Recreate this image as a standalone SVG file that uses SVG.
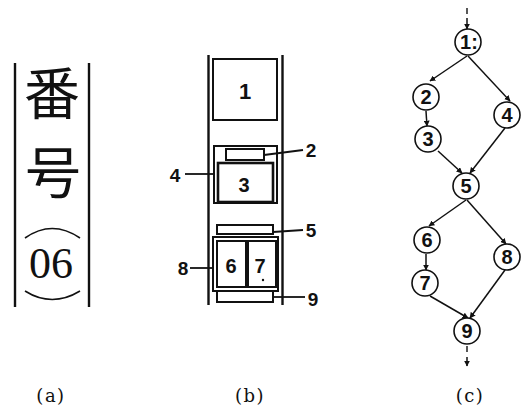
<svg xmlns="http://www.w3.org/2000/svg" width="521" height="407" viewBox="0 0 521 407">
  <style>
    .rule { stroke: #111; stroke-width: 2.4; fill: none; }
    .box { stroke: #111; stroke-width: 2; fill: none; }
    .box3 { stroke: #111; stroke-width: 2.6; fill: none; }
    .lead { stroke: #111; stroke-width: 1.8; fill: none; }
    .edge { stroke: #111; stroke-width: 1.5; fill: none; marker-end: url(#ah); }
    .node { stroke: #111; stroke-width: 1.6; fill: #fff; }
    .num { font-family: "Liberation Sans", Arial, sans-serif; font-weight: bold; fill: #111; text-anchor: middle; }
    .cap { font-family: "DejaVu Serif", "Liberation Serif", serif; font-size: 18px; letter-spacing: 1.5px; fill: #111; text-anchor: middle; }
    .cjk { font-family: "Noto Sans CJK JP", "Noto Sans CJK SC", sans-serif; font-size: 56px; fill: #111; text-anchor: middle; }
  </style>
  <defs>
    <marker id="ah" viewBox="0 0 10 10" refX="9" refY="5" markerWidth="6" markerHeight="6" orient="auto" markerUnits="userSpaceOnUse">
      <path d="M0,0 L10,5 L0,10 Z" fill="#111"/>
    </marker>
  </defs>
  <rect width="521" height="407" fill="#fff"/>

  <!-- (a) vertical label between rules -->
  <g id="panel-a">
    <line class="rule" x1="15" y1="63" x2="15" y2="307"/>
    <line class="rule" x1="89" y1="63" x2="89" y2="307"/>
    <text class="cjk" x="52" y="114">番</text>
    <text class="cjk" x="53" y="193">号</text>
    <path d="M25,238 Q52,219 80,238" stroke="#111" stroke-width="1.6" fill="none"/>
    <text x="51" y="278" font-family="Liberation Serif, Times New Roman, serif" font-size="44" fill="#111" text-anchor="middle">06</text>
    <path d="M25,291 Q52,308 80,291" stroke="#111" stroke-width="1.6" fill="none"/>
  </g>

  <!-- (b) block layout -->
  <g id="panel-b">
    <line class="rule" x1="208.5" y1="55" x2="208.5" y2="305"/>
    <line class="rule" x1="282.5" y1="55" x2="282.5" y2="305"/>
  </g>
  <g id="b1">
    <rect class="box" x="213" y="59" width="64" height="61"/>
    <text class="num" x="245" y="99" font-size="22">1</text>
  </g>
  <g id="b4">
    <rect class="box" x="214" y="146" width="63" height="57"/>
    <line class="lead" x1="185" y1="174" x2="214" y2="174"/>
    <text class="num" x="175" y="182" font-size="19">4</text>
  </g>
  <g id="b2">
    <rect class="box" x="226" y="149" width="38" height="11"/>
    <line class="lead" x1="264" y1="155" x2="303" y2="150"/>
    <text class="num" x="311" y="157" font-size="19">2</text>
  </g>
  <g id="b3">
    <rect class="box3" x="218" y="163" width="55" height="39"/>
    <text class="num" x="244" y="192" font-size="20">3</text>
  </g>
  <g id="b5">
    <rect class="box" x="217" y="225" width="56" height="9"/>
    <line class="lead" x1="273" y1="232" x2="303" y2="230"/>
    <text class="num" x="311" y="237" font-size="19">5</text>
  </g>
  <g id="b8">
    <rect class="box" x="213" y="237" width="65" height="54"/>
    <line class="lead" x1="190" y1="268" x2="213" y2="268"/>
    <text class="num" x="183" y="275" font-size="19">8</text>
  </g>
  <g id="b6">
    <rect class="box" x="217" y="241" width="29" height="46"/>
    <text class="num" x="231" y="273" font-size="20">6</text>
  </g>
  <g id="b7">
    <rect class="box" x="248" y="241" width="28" height="46"/>
    <text class="num" x="260" y="273" font-size="20">7</text>
    <circle cx="263" cy="280" r="1.2" fill="#111"/>
  </g>
  <g id="b9">
    <rect class="box" x="217" y="291" width="56" height="11"/>
    <line class="lead" x1="273" y1="297" x2="305" y2="297"/>
    <text class="num" x="313" y="306" font-size="19">9</text>
  </g>

  <!-- (c) flow graph connectors -->
  <g id="edges">
    <line x1="467" y1="8" x2="467" y2="14" stroke="#111" stroke-width="1.4"/>
    <line class="edge" x1="467" y1="18" x2="467" y2="29"/>
    <line class="edge" x1="467" y1="56" x2="430" y2="81"/>
    <line class="edge" x1="468" y1="56" x2="510" y2="101"/>
    <line class="edge" x1="426" y1="111" x2="427" y2="126"/>
    <line class="edge" x1="438" y1="151" x2="462" y2="173"/>
    <line class="edge" x1="505" y1="128" x2="470" y2="173"/>
    <line class="edge" x1="466" y1="200" x2="429" y2="226"/>
    <line class="edge" x1="467" y1="200" x2="506" y2="244"/>
    <line class="edge" x1="426" y1="254" x2="426" y2="270"/>
    <line class="edge" x1="430" y1="296" x2="468" y2="318"/>
    <line class="edge" x1="505" y1="270" x2="470" y2="318"/>
    <line x1="467" y1="346" x2="467" y2="352" stroke="#111" stroke-width="1.4"/>
    <line class="edge" x1="467" y1="357" x2="467" y2="366"/>
  </g>

  <!-- (c) flow graph nodes -->
  <g id="c1"><circle class="node" cx="468" cy="42" r="13"/><text class="num" x="469" y="49" font-size="20">1:</text></g>
  <g id="c2"><circle class="node" cx="426" cy="97" r="13"/><text class="num" x="426" y="104" font-size="20">2</text></g>
  <g id="c3"><circle class="node" cx="428" cy="139" r="13"/><text class="num" x="428" y="146" font-size="20">3</text></g>
  <g id="c4"><circle class="node" cx="507" cy="115" r="13"/><text class="num" x="507" y="122" font-size="20">4</text></g>
  <g id="c5"><circle class="node" cx="466" cy="186" r="13"/><text class="num" x="466" y="193" font-size="20">5</text></g>
  <g id="c6"><circle class="node" cx="427" cy="240" r="13"/><text class="num" x="427" y="247" font-size="20">6</text></g>
  <g id="c7"><circle class="node" cx="425" cy="283" r="13"/><text class="num" x="425" y="290" font-size="20">7</text></g>
  <g id="c8"><circle class="node" cx="507" cy="257" r="13"/><text class="num" x="507" y="264" font-size="20">8</text></g>
  <g id="c9"><circle class="node" cx="467" cy="331" r="13"/><text class="num" x="467" y="338" font-size="20">9</text></g>

  <!-- captions -->
  <text class="cap" x="51" y="402">(a)</text>
  <text class="cap" x="250" y="402">(b)</text>
  <text class="cap" x="470" y="402">(c)</text>
</svg>
